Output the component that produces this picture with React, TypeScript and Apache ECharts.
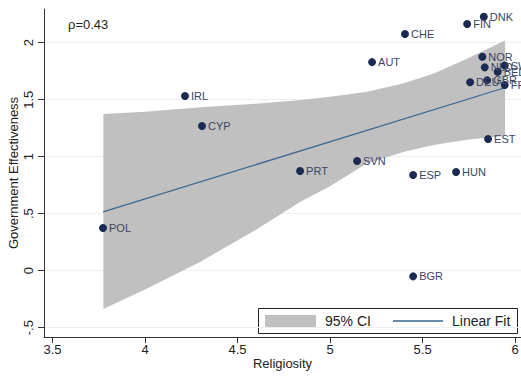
import React, { useEffect, useRef } from "react";
import * as echarts from "echarts";

// Country-level data
const countries = ["POL", "IRL", "CYP", "PRT", "SVN", "ESP", "HUN", "BGR", "EST", "AUT", "CHE", "FIN", "DNK", "NOR", "NLD", "SWE", "BEL", "DEU", "GBR", "FRA"];
const religiosity = [3.773, 4.216, 4.308, 4.838, 5.146, 5.449, 5.681, 5.449, 5.854, 5.227, 5.405, 5.741, 5.831, 5.823, 5.836, 5.944, 5.906, 5.757, 5.849, 5.944];
const govEffectiveness = [0.375, 1.532, 1.269, 0.875, 0.962, 0.839, 0.866, -0.05, 1.155, 1.83, 2.076, 2.164, 2.228, 1.877, 1.784, 1.8, 1.746, 1.653, 1.67, 1.629];

// Linear fit end points
const fitX = [3.773, 5.944];
const fitY = [0.515, 1.605];

// 95% CI band
const bandX = [3.775, 4.0, 4.3, 4.6, 4.84, 5.0, 5.2, 5.4, 5.56, 5.74, 5.946];
const bandUpper = [1.375, 1.395, 1.433, 1.465, 1.497, 1.525, 1.57, 1.645, 1.73, 1.86, 2.02];
const bandLower = [-0.336, -0.165, 0.079, 0.36, 0.605, 0.74, 0.942, 1.044, 1.103, 1.148, 1.182];

// Axis ticks
const xTicks = [3.5, 4, 4.5, 5, 5.5, 6];
const xTickLabels = ["3.5", "4", "4.5", "5", "5.5", "6"];
const yTicks = [-0.5, 0, 0.5, 1, 1.5, 2];
const yTickLabels = ["-.5", "0", ".5", "1", "1.5", "2"];

const legendNames = ["95% CI", "Linear Fit"];

const FONT = "'Liberation Sans', Arial, Helvetica, sans-serif";
const BAND = "#c0c0c0";
const FIT = "#3a6790";

export default function App() {
  const ref = useRef<HTMLDivElement>(null);
  useEffect(() => {
    if (!ref.current) return;
    const chart = echarts.init(ref.current, undefined, { renderer: "svg" });
    const scatterData = countries.map((c, i) => ({ name: c, value: [religiosity[i], govEffectiveness[i]] }));
    chart.setOption({
      animation: false,
      backgroundColor: "#ffffff",
      textStyle: { fontFamily: FONT },
      grid: { left: 44, right: 0, top: 9, bottom: 42, containLabel: false, outerBoundsMode: "none" },
      xAxis: {
        type: "value",
        min: 3.454,
        max: 6.032,
        name: "Religiosity",
        nameLocation: "middle",
        nameGap: 20,
        nameMoveOverlap: false,
        nameTextStyle: { fontSize: 13, color: "#222", fontFamily: FONT },
        axisLine: { show: true, onZero: false, lineStyle: { color: "#333", width: 1 } },
        axisTick: { show: true, length: 6, lineStyle: { color: "#333" }, customValues: xTicks },
        axisLabel: {
          fontSize: 13,
          color: "#222",
          margin: 6,
          customValues: xTicks,
          formatter: (v: number) => {
            const i = xTicks.findIndex((t) => Math.abs(t - v) < 1e-6);
            return i >= 0 ? xTickLabels[i] : "";
          },
        },
        splitLine: { show: false },
      },
      yAxis: {
        type: "value",
        min: -0.582,
        max: 2.296,
        name: "Government Effectiveness",
        nameLocation: "middle",
        nameGap: 24,
        nameMoveOverlap: false,
        nameRotate: 90,
        nameTextStyle: { fontSize: 13, color: "#222", fontFamily: FONT },
        axisLine: { show: true, onZero: false, lineStyle: { color: "#333", width: 1 } },
        axisTick: { show: true, length: 6, lineStyle: { color: "#333" }, customValues: yTicks },
        axisLabel: {
          fontSize: 13,
          color: "#222",
          rotate: 90,
          margin: 9,
          customValues: yTicks,
          formatter: (v: number) => {
            const i = yTicks.findIndex((t) => Math.abs(t - v) < 1e-6);
            return i >= 0 ? yTickLabels[i] : "";
          },
        },
        splitLine: { show: true, lineStyle: { color: "#e9eff3", width: 1 } },
      },
      graphic: [
        {
          type: "text",
          left: 68,
          top: 18,
          style: { text: "ρ=0.43", fontSize: 13, fill: "#222", fontFamily: FONT },
        },
        {
          type: "group",
          left: 258,
          top: 308,
          z: 100,
          children: [
            { type: "rect", shape: { x: 0.5, y: 0.5, width: 259, height: 25 }, style: { fill: "#fff", stroke: "#222", lineWidth: 1 } },
            { type: "rect", shape: { x: 7, y: 7, width: 51, height: 12 }, style: { fill: BAND } },
            { type: "text", x: 67, y: 13, style: { text: legendNames[0], fontSize: 14, fill: "#222", fontFamily: FONT, verticalAlign: "middle" } },
            { type: "line", shape: { x1: 135, y1: 13, x2: 185, y2: 13 }, style: { stroke: FIT, lineWidth: 1.3 } },
            { type: "text", x: 194, y: 13, style: { text: legendNames[1], fontSize: 14, fill: "#222", fontFamily: FONT, verticalAlign: "middle" } },
          ],
        },
      ],
      series: [
        {
          name: legendNames[0],
          type: "custom",
          itemStyle: { color: BAND },
          data: [[bandX[0], bandLower[0]]],
          z: 1,
          renderItem: (params: any, api: any) => {
            const pts: number[][] = [];
            for (let i = 0; i < bandX.length; i++) pts.push(api.coord([bandX[i], bandUpper[i]]));
            for (let i = bandX.length - 1; i >= 0; i--) pts.push(api.coord([bandX[i], bandLower[i]]));
            return {
              type: "polygon",
              shape: { points: pts },
              style: { fill: BAND, stroke: "none" },
            };
          },
        },
        {
          name: legendNames[1],
          type: "line",
          data: fitX.map((x, i) => [x, fitY[i]]),
          symbol: "none",
          lineStyle: { color: FIT, width: 1.3 },
          itemStyle: { color: FIT },
          z: 2,
        },
        {
          name: "Countries",
          type: "scatter",
          data: scatterData,
          symbolSize: 8,
          itemStyle: { color: "#1b2a52", opacity: 1 },
          z: 3,
          label: {
            show: true,
            position: "right",
            distance: 2,
            formatter: (p: any) => p.name,
            fontSize: 11,
            color: "#3a4562",
            fontFamily: FONT,
          },
        },
      ],
    });
    return () => chart.dispose();
  }, []);
  return <div ref={ref} style={{ width: 521, height: 379, position: "absolute", left: 0, top: 0 }} />;
}
